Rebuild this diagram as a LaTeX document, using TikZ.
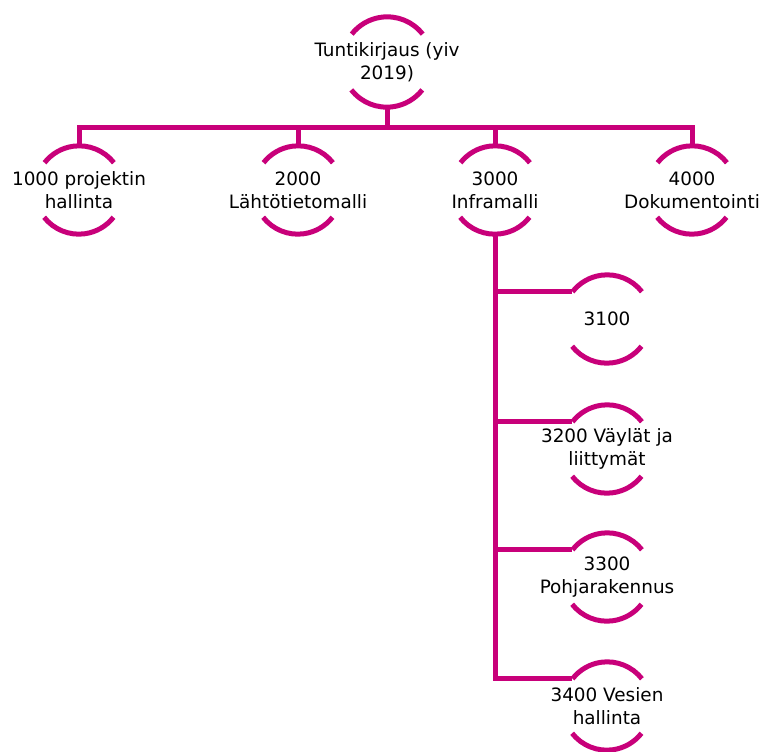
\documentclass[tikz,border=0pt]{standalone}
\usepackage{fontspec}
\setmainfont{DejaVu Sans}
\definecolor{mag}{RGB}{200,0,122}
\begin{document}
\begin{tikzpicture}[x=0.75pt,y=0.75pt,
  ring/.style={circle,draw=none,inner sep=0pt,minimum size=66pt},
  bigring/.style={circle,draw=none,inner sep=0pt,minimum size=67.5pt},
  lbl/.style={font=\fontsize{13.8}{17.25}\selectfont,align=center,text=black,inner sep=0pt},
  conn/.style={draw=mag,line width=3.75pt},
  arcl/.style={draw=mag,line width=3.75pt}
]
\useasboundingbox (0,0) rectangle (762,751);
\clip (0,0) rectangle (762,751);
% nodes
\node[bigring] (t) at (387,689) {};
\node[ring] (c1) at (79,561) {};
\node[ring] (c2) at (298,561) {};
\node[ring] (c3) at (495,561) {};
\node[ring] (c4) at (692,561) {};
\node[ring] (d1) at (607,432) {};
\node[ring] (d2) at (607,302) {};
\node[ring] (d3) at (607,174) {};
\node[ring] (d4) at (607,45) {};
% arcs
\draw[arcl] (t.38) arc[start angle=38,end angle=142,radius=33.75pt];
\draw[arcl] (t.218) arc[start angle=218,end angle=322,radius=33.75pt];
\foreach \n in {c1,c2,c3,c4,d1,d2,d3,d4}{
  \draw[arcl] (\n.38) arc[start angle=38,end angle=142,radius=33pt];
  \draw[arcl] (\n.218) arc[start angle=218,end angle=322,radius=33pt];
}
% connectors
\foreach \n in {c1,c2,c3,c4}{
  \draw[conn] (t.south) -- ++(0,-20) -| (\n.north);
}
\foreach \n in {d1,d2,d3,d4}{
  \draw[conn] (c3.south) |- (\n.142);
}
% labels
\node[lbl] at (t) {Tuntikirjaus (yiv\\2019)};
\node[lbl] at (c1) {1000 projektin\\hallinta};
\node[lbl] at (c2) {2000\\Lähtötietomalli};
\node[lbl] at (c3) {3000\\Inframalli};
\node[lbl] at (c4) {4000\\Dokumentointi};
\node[lbl] at (d1) {3100};
\node[lbl] at (d2) {3200 Väylät ja\\liittymät};
\node[lbl] at (d3) {3300\\Pohjarakennus};
\node[lbl] at (d4) {3400 Vesien\\hallinta};
\end{tikzpicture}
\end{document}
